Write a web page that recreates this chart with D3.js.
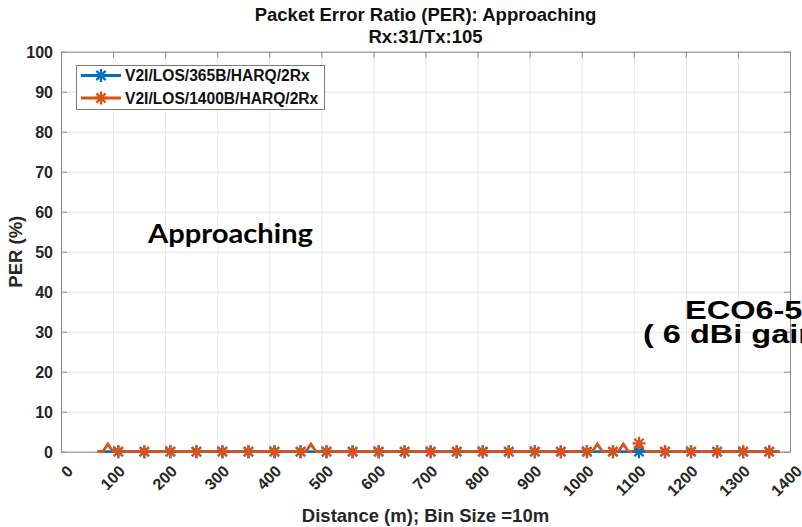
<!DOCTYPE html>
<html>
<head>
<meta charset="utf-8">
<script src="https://cdn.jsdelivr.net/npm/d3@7"></script>
<style>
  html, body { margin: 0; padding: 0; background: #fff; overflow: hidden; }
  svg { display: block; }
  text { font-family: "Liberation Sans", Arial, Helvetica, sans-serif; }
</style>
</head>
<body>
<svg id="chart" width="802" height="527"></svg>
<script>
// Bin centres along the approach (m), 10 m bins
const distances = [
  70, 80, 90, 100, 110, 120, 130, 140, 150, 160,
  170, 180, 190, 200, 210, 220, 230, 240, 250, 260,
  270, 280, 290, 300, 310, 320, 330, 340, 350, 360,
  370, 380, 390, 400, 410, 420, 430, 440, 450, 460,
  470, 480, 490, 500, 510, 520, 530, 540, 550, 560,
  570, 580, 590, 600, 610, 620, 630, 640, 650, 660,
  670, 680, 690, 700, 710, 720, 730, 740, 750, 760,
  770, 780, 790, 800, 810, 820, 830, 840, 850, 860,
  870, 880, 890, 900, 910, 920, 930, 940, 950, 960,
  970, 980, 990, 1000, 1010, 1020, 1030, 1040, 1050, 1060,
  1070, 1080, 1090, 1100, 1110, 1120, 1130, 1140, 1150, 1160,
  1170, 1180, 1190, 1200, 1210, 1220, 1230, 1240, 1250, 1260,
  1270, 1280, 1290, 1300, 1310, 1320, 1330, 1340, 1350, 1360,
  1370, 1380
];

// PER (%) per bin, 365-byte packets
const per365 = [
  0, 0, 0, 0, 0, 0, 0, 0, 0, 0,
  0, 0, 0, 0, 0, 0, 0, 0, 0, 0,
  0, 0, 0, 0, 0, 0, 0, 0, 0, 0,
  0, 0, 0, 0, 0, 0, 0, 0, 0, 0,
  0, 0, 0, 0, 0, 0, 0, 0, 0, 0,
  0, 0, 0, 0, 0, 0, 0, 0, 0, 0,
  0, 0, 0, 0, 0, 0, 0, 0, 0, 0,
  0, 0, 0, 0, 0, 0, 0, 0, 0, 0,
  0, 0, 0, 0, 0, 0, 0, 0, 0, 0,
  0, 0, 0, 0, 0, 0, 0, 0, 0, 0,
  0, 0, 0, 0, 0, 0, 0, 0, 0, 0,
  0, 0, 0, 0, 0, 0, 0, 0, 0, 0,
  0, 0, 0, 0, 0, 0, 0, 0, 0, 0,
  0, 0
];

// PER (%) per bin, 1400-byte packets
const per1400 = [
  0, 0, 1.9, 0, 0, 0, 0, 0, 0, 0,
  0, 0, 0, 0, 0, 0, 0, 0, 0, 0,
  0, 0, 0, 0, 0, 0, 0, 0, 0, 0,
  0, 0, 0, 0, 0, 0, 0, 0, 0, 0,
  0, 1.9, 0, 0, 0, 0, 0, 0, 0, 0,
  0, 0, 0, 0, 0, 0, 0, 0, 0, 0,
  0, 0, 0, 0, 0, 0, 0, 0, 0, 0,
  0, 0, 0, 0, 0, 0, 0, 0, 0, 0,
  0, 0, 0, 0, 0, 0, 0, 0, 0, 0,
  0, 0, 0, 0, 0, 0, 1.9, 0, 0, 0,
  0, 1.9, 0, 0, 2.1, 0, 0, 0, 0, 0,
  0, 0, 0, 0, 0, 0, 0, 0, 0, 0,
  0, 0, 0, 0, 0, 0, 0, 0, 0, 0,
  0, 0
];

const seriesNames = ["V2I/LOS/365B/HARQ/2Rx", "V2I/LOS/1400B/HARQ/2Rx"];
const seriesColors = ["#0072BD", "#D95319"];
const xTicks = [0, 100, 200, 300, 400, 500, 600, 700, 800, 900, 1000, 1100, 1200, 1300, 1400];
const yTicks = [0, 10, 20, 30, 40, 50, 60, 70, 80, 90, 100];
const titleLines = ["Packet Error Ratio (PER): Approaching", "Rx:31/Tx:105"];

// markers are drawn on every fifth bin
const markerStep = 5, markerStart = 4;

const svg = d3.select("#chart");
const plotL = 61, plotR = 790, plotT = 51.7, plotB = 451.7;
const W = plotR - plotL, H = plotB - plotT;

const x = d3.scaleLinear().domain([0, 1400]).range([plotL, plotR]);
const y = d3.scaleLinear().domain([0, 100]).range([plotB, plotT]);

const axisColor = "#8a8a8a";
const labelColor = "#262626";

// grid
svg.append("g")
  .attr("transform", `translate(0,${plotB})`)
  .call(d3.axisBottom(x).tickValues(xTicks).tickSize(-H).tickFormat(""))
  .call(g => g.select(".domain").remove())
  .call(g => g.selectAll("line").attr("stroke", "#e6e6e6").attr("stroke-width", 1));
svg.append("g")
  .attr("transform", `translate(${plotL},0)`)
  .call(d3.axisLeft(y).tickValues(yTicks).tickSize(-W).tickFormat(""))
  .call(g => g.select(".domain").remove())
  .call(g => g.selectAll("line").attr("stroke", "#e6e6e6").attr("stroke-width", 1));

// box ticks (top, right)
svg.append("g")
  .attr("transform", `translate(0,${plotT})`)
  .call(d3.axisTop(x).tickValues(xTicks).tickSize(-6).tickSizeOuter(0).tickFormat(""))
  .call(g => g.select(".domain").attr("stroke", axisColor))
  .call(g => g.selectAll("line").attr("stroke", axisColor));
svg.append("g")
  .attr("transform", `translate(${plotR},0)`)
  .call(d3.axisRight(y).tickValues(yTicks).tickSize(-6).tickSizeOuter(0).tickFormat(""))
  .call(g => g.select(".domain").attr("stroke", axisColor))
  .call(g => g.selectAll("line").attr("stroke", axisColor));

// left axis
svg.append("g")
  .attr("transform", `translate(${plotL},0)`)
  .call(d3.axisLeft(y).tickValues(yTicks).tickSize(-6).tickSizeOuter(0).tickPadding(8))
  .call(g => g.select(".domain").attr("stroke", axisColor))
  .call(g => g.selectAll("line").attr("stroke", axisColor))
  .call(g => g.selectAll("text")
    .attr("fill", labelColor)
    .style("font-size", "16px").style("font-weight", "bold")
    .attr("dy", "0.36em"));

// bottom axis
svg.append("g")
  .attr("transform", `translate(0,${plotB})`)
  .call(d3.axisBottom(x).tickValues(xTicks).tickSize(-6).tickSizeOuter(0).tickFormat(d3.format("d")))
  .call(g => g.select(".domain").attr("stroke", axisColor))
  .call(g => g.selectAll("line").attr("stroke", axisColor))
  .call(g => g.selectAll("text")
    .attr("fill", labelColor)
    .style("font-size", "16px").style("font-weight", "bold")
    .attr("x", 0).attr("y", 0).attr("dy", 0)
    .attr("text-anchor", "end")
    .attr("transform", "translate(12.5,20.5) rotate(-45)"));

// series
const series = [per365, per1400];
const line = d3.line().x((d, i) => x(distances[i])).y(d => y(d));

function asterisk(r) {
  const d = r * Math.SQRT1_2;
  return `M${-r},0L${r},0M0,${-r}L0,${r}M${-d},${-d}L${d},${d}M${-d},${d}L${d},${-d}`;
}

series.forEach((vals, s) => {
  svg.append("path")
    .datum(vals)
    .attr("fill", "none")
    .attr("stroke", seriesColors[s])
    .attr("stroke-width", 2.8)
    .attr("stroke-linejoin", "miter")
    .attr("d", line);
});
series.forEach((vals, s) => {
  const pts = vals.map((v, i) => ({ v, i })).filter(p => p.i >= markerStart && (p.i - markerStart) % markerStep === 0);
  svg.append("g").selectAll("path")
    .data(pts)
    .join("path")
    .attr("transform", p => `translate(${x(distances[p.i])},${y(p.v)})`)
    .attr("d", asterisk(6.5))
    .attr("fill", "none")
    .attr("stroke", seriesColors[s])
    .attr("stroke-width", 2.3);
});

// title
svg.append("g").selectAll("text")
  .data(titleLines)
  .join("text")
  .attr("x", (plotL + plotR) / 2)
  .attr("y", (d, i) => 20.5 + i * 22.5)
  .attr("text-anchor", "middle")
  .attr("fill", "#111")
  .style("font-size", "18.5px").style("font-weight", "bold")
  .text(d => d);

// axis labels
svg.append("text")
  .attr("x", (plotL + plotR) / 2).attr("y", 521.5)
  .attr("text-anchor", "middle")
  .attr("fill", labelColor)
  .style("font-size", "18.5px").style("font-weight", "bold")
  .text("Distance (m); Bin Size =10m");
svg.append("text")
  .attr("transform", `translate(22,${(plotT + plotB) / 2}) rotate(-90)`)
  .attr("text-anchor", "middle")
  .attr("fill", labelColor)
  .style("font-size", "18.5px").style("font-weight", "bold")
  .text("PER (%)");

// legend
const lg = svg.append("g");
lg.append("rect")
  .attr("x", 76.5).attr("y", 65.5).attr("width", 248).attr("height", 44)
  .attr("fill", "#fff").attr("stroke", "#7a7a7a").attr("stroke-width", 1);
seriesNames.forEach((name, s) => {
  const ly = 75.5 + s * 22.5;
  lg.append("line").attr("x1", 81).attr("x2", 121).attr("y1", ly).attr("y2", ly)
    .attr("stroke", seriesColors[s]).attr("stroke-width", 2.8);
  lg.append("path").attr("transform", `translate(101,${ly})`).attr("d", asterisk(6.5))
    .attr("fill", "none").attr("stroke", seriesColors[s]).attr("stroke-width", 2.3);
  lg.append("text").attr("x", 125).attr("y", ly + 5.5)
    .attr("fill", "#111")
    .style("font-size", "15.6px").style("font-weight", "bold")
    .text(name);
});

// annotations
svg.append("text")
  .attr("x", 148).attr("y", 243)
  .attr("fill", "#000")
  .attr("textLength", 165).attr("lengthAdjust", "spacingAndGlyphs")
  .style("font-family", "Lato, 'Open Sans', sans-serif")
  .style("font-size", "26px").style("font-weight", "bold")
  .text("Approaching");
const ann = svg.append("g");
ann.append("text")
  .attr("transform", "translate(685,319) scale(1.3,1)")
  .attr("fill", "#000")
  .style("font-size", "25px").style("font-weight", "bold")
  .text("ECO6-5500");
ann.append("text")
  .attr("transform", "translate(643,343) scale(1.3,1)")
  .attr("fill", "#000")
  .style("font-size", "25px").style("font-weight", "bold")
  .text("( 6 dBi gain)");
</script>
</body>
</html>
